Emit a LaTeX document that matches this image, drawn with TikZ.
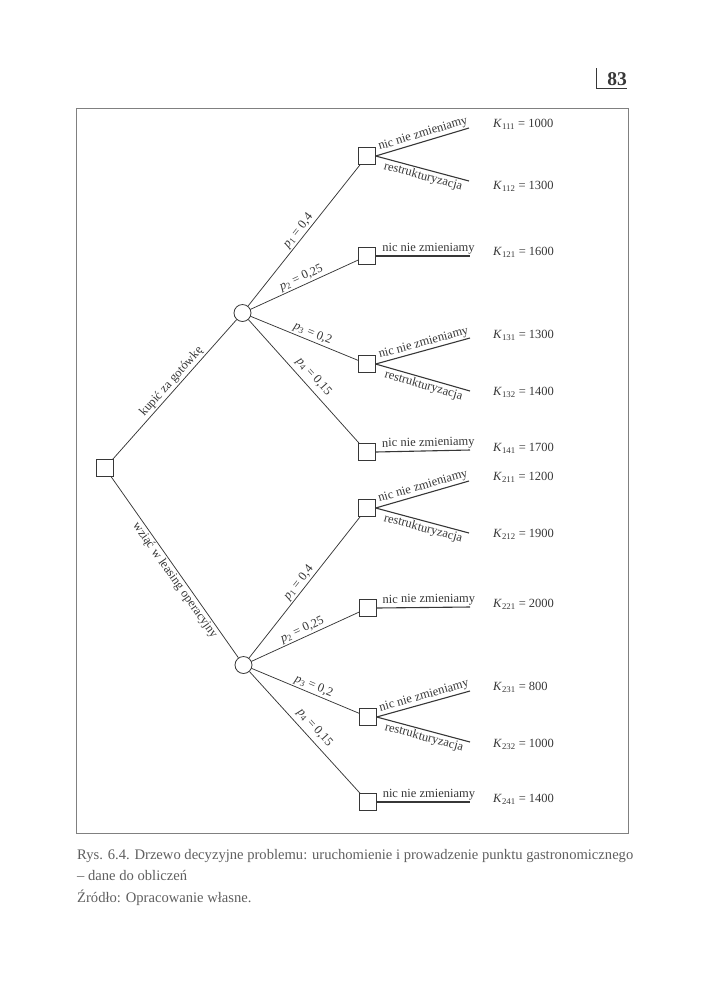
\documentclass[tikz,border=0pt]{standalone}
\usepackage{fontspec}
\setmainfont{Liberation Serif}
\newcommand\prb[1]{\textit{p}\textsubscript{#1}}
\newcommand\kk[1]{\textit{K}\textsubscript{#1}}
\definecolor{ink}{RGB}{55,55,55}
\definecolor{capink}{RGB}{95,95,95}
\begin{document}
\begin{tikzpicture}[x=1pt,y=-1pt,
  dec/.style={draw=ink, minimum size=16.5pt, inner sep=0pt, fill=white, line width=0.8pt},
  chance/.style={draw=ink, circle, minimum size=17pt, inner sep=0pt, fill=white, line width=0.8pt},
  branch/.style={draw=ink, line width=0.75pt},
  endbr/.style={draw=ink, line width=1.1pt},
  lbl/.style={font=\fontsize{12.5}{14}\selectfont, text=ink, sloped, inner sep=1.5pt},
  kval/.style={font=\fontsize{12.5}{14}\selectfont, text=ink, anchor=west, inner sep=0pt},
  captxt/.style={font=\fontsize{14.6}{16}\selectfont, text=capink, anchor=west, inner sep=0pt},
  framebox/.style={draw=black!50, line width=0.8pt}]
\useasboundingbox (0,0) rectangle (702,1005);
% page number
\node[font=\fontsize{19.5}{21}\selectfont\bfseries, text=ink, anchor=south east, inner sep=0pt] (pg) at (627,86) {83};
\coordinate (pgA) at (596,68);
\coordinate (pgB) at (596,88);
\coordinate (pgC) at (627,88);
\draw[draw=ink, line width=1pt] (pgA) -- (pgB) -- (pgC);
% frame
\coordinate (fA) at (76,108);
\coordinate (fB) at (628,833);
\draw[framebox] (fA) rectangle (fB);
% nodes
\node[dec] (r) at (105,468) {};
\node[chance] (c1) at (242.5,313) {};
\node[chance] (c2) at (243.5,665) {};
\node[dec] (s1) at (367,156) {};
\node[dec] (s2) at (367,256) {};
\node[dec] (s3) at (367,364) {};
\node[dec] (s4) at (367,452) {};
\node[dec] (s5) at (367,508) {};
\node[dec] (s6) at (368,608) {};
\node[dec] (s7) at (368,717) {};
\node[dec] (s8) at (368,802) {};
% end points
\coordinate (e11) at (469,128);
\coordinate (e12) at (469,181);
\coordinate (e21) at (470,256);
\coordinate (e31) at (470,338);
\coordinate (e32) at (470,391);
\coordinate (e41) at (470,450);
\coordinate (e51) at (469,481);
\coordinate (e52) at (469,533);
\coordinate (e61) at (470,607);
\coordinate (e71) at (470,691);
\coordinate (e72) at (470,742);
\coordinate (e81) at (470,802);
% first level
\draw[branch] (r) -- node[lbl, above, pos=0.52]{kupić za gotówkę} (c1);
\draw[branch] (r) -- node[lbl, below, pos=0.55]{wziąć w leasing operacyjny} (c2);
% chance branches upper
\draw[branch] (c1) -- node[lbl, above, pos=0.5]{\prb{1} = 0,4} (s1);
\draw[branch] (c1) -- node[lbl, above, pos=0.5]{\prb{2} = 0,25} (s2);
\draw[branch] (c1) -- node[lbl, above, pos=0.55]{\prb{3} = 0,2} (s3);
\draw[branch] (c1) -- node[lbl, above=3pt, pos=0.52]{\prb{4} = 0,15} (s4);
% chance branches lower
\draw[branch] (c2) -- node[lbl, above, pos=0.5]{\prb{1} = 0,4} (s5);
\draw[branch] (c2) -- node[lbl, above, pos=0.5]{\prb{2} = 0,25} (s6);
\draw[branch] (c2) -- node[lbl, above, pos=0.55]{\prb{3} = 0,2} (s7);
\draw[branch] (c2) -- node[lbl, above=3pt, pos=0.52]{\prb{4} = 0,15} (s8);
% end branches
\draw[endbr] (s1.east) -- node[lbl, above, pos=0.53]{nic nie zmieniamy} (e11);
\draw[endbr] (s1.east) -- node[lbl, below, pos=0.53]{restrukturyzacja} (e12);
\draw[endbr] (s2.east) -- node[lbl, above, pos=0.56]{nic nie zmieniamy} (e21);
\draw[endbr] (s3.east) -- node[lbl, above, pos=0.53]{nic nie zmieniamy} (e31);
\draw[endbr] (s3.east) -- node[lbl, below, pos=0.53]{restrukturyzacja} (e32);
\draw[endbr] (s4.east) -- node[lbl, above, pos=0.56]{nic nie zmieniamy} (e41);
\draw[endbr] (s5.east) -- node[lbl, above, pos=0.53]{nic nie zmieniamy} (e51);
\draw[endbr] (s5.east) -- node[lbl, below, pos=0.53]{restrukturyzacja} (e52);
\draw[endbr] (s6.east) -- node[lbl, above, pos=0.56]{nic nie zmieniamy} (e61);
\draw[endbr] (s7.east) -- node[lbl, above, pos=0.53]{nic nie zmieniamy} (e71);
\draw[endbr] (s7.east) -- node[lbl, below, pos=0.53]{restrukturyzacja} (e72);
\draw[endbr] (s8.east) -- node[lbl, above, pos=0.56]{nic nie zmieniamy} (e81);
% K values
\node[kval] (k111) at (493,124) {\kk{111} = 1000};
\node[kval] (k112) at (493,186) {\kk{112} = 1300};
\node[kval] (k121) at (493,252) {\kk{121} = 1600};
\node[kval] (k131) at (493,335) {\kk{131} = 1300};
\node[kval] (k132) at (493,392) {\kk{132} = 1400};
\node[kval] (k141) at (493,448) {\kk{141} = 1700};
\node[kval] (k211) at (493,477) {\kk{211} = 1200};
\node[kval] (k212) at (493,534) {\kk{212} = 1900};
\node[kval] (k221) at (493,604) {\kk{221} = 2000};
\node[kval] (k231) at (493,687) {\kk{231} = 800};
\node[kval] (k232) at (493,744) {\kk{232} = 1000};
\node[kval] (k241) at (493,799) {\kk{241} = 1400};
% caption
\node[captxt] (cap1) at (77,856) {Rys. 6.4. Drzewo decyzyjne problemu: uruchomienie i prowadzenie punktu gastronomicznego};
\node[captxt] (cap2) at (77,875) {– dane do obliczeń};
\node[captxt] (cap3) at (77,898) {Źródło: Opracowanie własne.};
\end{tikzpicture}
\end{document}
